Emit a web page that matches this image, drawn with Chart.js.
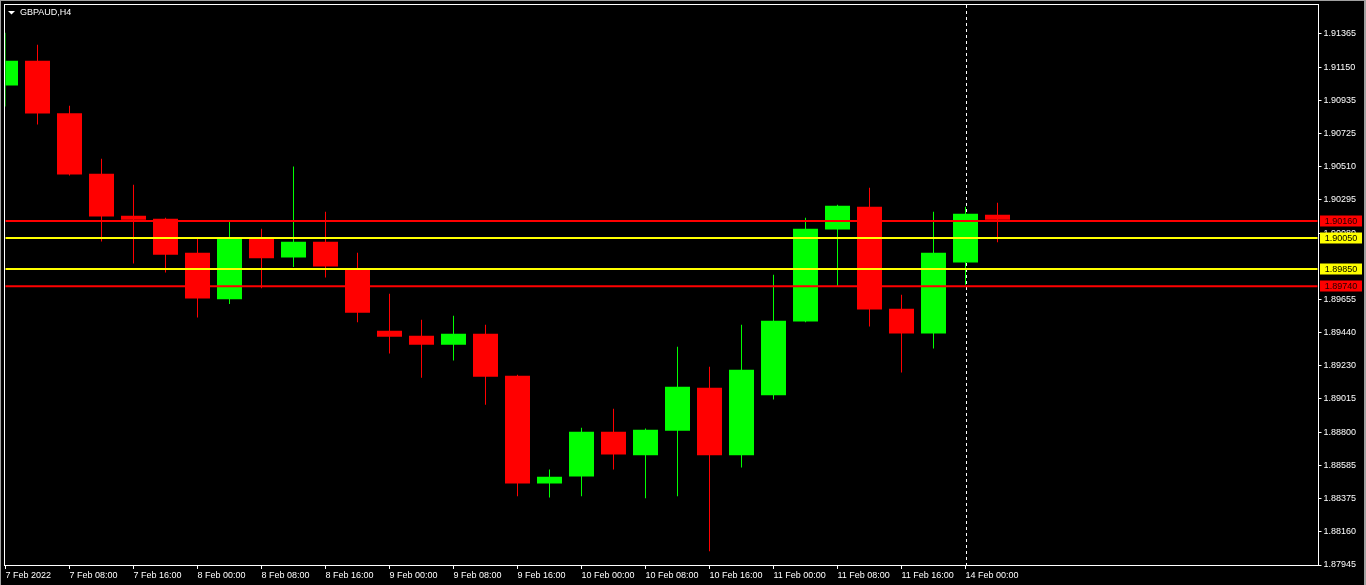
<!DOCTYPE html>
<html>
<head>
<meta charset="utf-8">
<title>GBPAUD,H4</title>
<script src="https://cdn.jsdelivr.net/npm/chart.js@4.4.1/dist/chart.umd.min.js"></script>
<style>
  html, body { margin: 0; padding: 0; background: #000; overflow: hidden; }
  canvas { display: block; }
</style>
</head>
<body>
<canvas id="chart" width="1366" height="585"></canvas>
<script>
// GBPAUD H4 candles, 7 Feb 2022 00:00 .. 14 Feb 04:00
const symbolTitle = 'GBPAUD,H4';

const opens = [1.91032, 1.91191, 1.90853, 1.90463, 1.90193, 1.90174, 1.89955, 1.89655,
  1.90045, 1.89925, 1.90026, 1.89852, 1.89453, 1.89421, 1.89363, 1.89434,
  1.89164, 1.88470, 1.88515, 1.88803, 1.88651, 1.88810, 1.89086, 1.88651,
  1.89037, 1.89513, 1.90105, 1.90251, 1.89595, 1.89436, 1.89893, 1.90200];
const highs = [1.91371, 1.91294, 1.90902, 1.90560, 1.90393, 1.90181, 1.90045, 1.90157,
  1.90110, 1.90511, 1.90219, 1.89955, 1.89691, 1.89524, 1.89550, 1.89492,
  1.89170, 1.88559, 1.88829, 1.88951, 1.88823, 1.89350, 1.89222, 1.89492,
  1.89814, 1.90181, 1.90264, 1.90374, 1.89685, 1.90219, 1.90251, 1.90277];
const lows = [1.90897, 1.90781, 1.90453, 1.90028, 1.89886, 1.89828, 1.89539, 1.89625,
  1.89726, 1.89863, 1.89796, 1.89507, 1.89307, 1.89151, 1.89262, 1.88977,
  1.88387, 1.88380, 1.88387, 1.88560, 1.88374, 1.88387, 1.88033, 1.88573,
  1.89011, 1.89507, 1.89738, 1.89481, 1.89185, 1.89339, 1.89749, 1.90022];
const closes = [1.91191, 1.90852, 1.90459, 1.90189, 1.90168, 1.89942, 1.89661, 1.90045,
  1.89919, 1.90026, 1.89867, 1.89569, 1.89415, 1.89363, 1.89434, 1.89157,
  1.88470, 1.88513, 1.88803, 1.88657, 1.88816, 1.89093, 1.88651, 1.89202,
  1.89518, 1.90110, 1.90258, 1.89590, 1.89436, 1.89955, 1.90206, 1.90168];

// x labels, one every two bars (8 hours)
const timeLabels = ['7 Feb 2022', '7 Feb 08:00', '7 Feb 16:00', '8 Feb 00:00', '8 Feb 08:00',
  '8 Feb 16:00', '9 Feb 00:00', '9 Feb 08:00', '9 Feb 16:00', '10 Feb 00:00', '10 Feb 08:00',
  '10 Feb 16:00', '11 Feb 00:00', '11 Feb 08:00', '11 Feb 16:00', '14 Feb 00:00'];
const totalSlots = 42;       // visible bar slots incl. empty space on the right
const separatorIndex = 30;   // 14 Feb 00:00 dashed line

const priceTicks = [1.91365, 1.91150, 1.90935, 1.90725, 1.90510, 1.90295, 1.90080,
  1.89655, 1.89440, 1.89230, 1.89015, 1.88800, 1.88585, 1.88375, 1.88160, 1.87945];
const priceMin = 1.87945;
const priceMax = 1.91550;

// horizontal levels
const levelValues = [1.90160, 1.90050, 1.89850, 1.89740];
const levelColors = ['#ff0000', '#ffff00', '#ffff00', '#ff0000'];

const UP = '#00ff00';
const DOWN = '#ff0000';
const FONT_FAMILY = '"Liberation Sans", Arial, sans-serif';

const labels = [];
for (let i = 0; i < totalSlots; i++) {
    labels.push(i % 2 === 0 && i / 2 < timeLabels.length ? timeLabels[i / 2] : '');
}
const candleColors = opens.map((o, i) => closes[i] >= o ? UP : DOWN);

const datasets = [];
levelValues.forEach((v, i) => {
    datasets.push({
        type: 'line',
        data: new Array(totalSlots).fill(v),
        borderColor: levelColors[i],
        borderWidth: 2,
        pointRadius: 0,
        order: 0
    });
});
datasets.push({
    label: 'body',
    data: opens.map((o, i) => [o, closes[i]]),
    backgroundColor: candleColors.slice(),
    barThickness: 25,
    grouped: false,
    inflateAmount: 0,
    borderWidth: 0,
    order: 1
});
datasets.push({
    label: 'wick',
    data: lows.map((l, i) => [l, highs[i]]),
    backgroundColor: candleColors.slice(),
    barThickness: 1,
    grouped: false,
    inflateAmount: 0,
    borderWidth: 0,
    order: 2
});

// background, frame, title, separator and level tags
const terminalLook = {
    id: 'terminalLook',
    beforeDraw(chart) {
        const c = chart.ctx;
        c.save();
        c.fillStyle = '#000';
        c.fillRect(0, 0, chart.width, chart.height);
        c.fillStyle = '#a0a0a0';
        c.fillRect(0, 0, chart.width, 1);
        c.fillRect(0, 0, 1, chart.height);
        c.fillRect(chart.width - 2, 0, 2, chart.height);
        c.restore();
    },
    beforeDatasetsDraw(chart) {
        const c = chart.ctx;
        const a = chart.chartArea;
        const x = Math.round(chart.scales.x.getPixelForValue(separatorIndex)) + 0.5;
        c.save();
        c.strokeStyle = '#ffffff';
        c.lineWidth = 1;
        c.setLineDash([3, 3]);
        c.beginPath();
        c.moveTo(x, a.top);
        c.lineTo(x, a.bottom);
        c.stroke();
        c.restore();
    },
    afterDraw(chart) {
        const c = chart.ctx;
        const a = chart.chartArea;
        const y = chart.scales.y;
        c.save();
        // plot frame
        c.strokeStyle = '#ffffff';
        c.lineWidth = 1;
        c.strokeRect(4.5, 4.5, Math.round(a.right) + 0.5 - 4.5, Math.round(a.bottom) + 0.5 - 4.5);
        // title
        c.fillStyle = '#ffffff';
        c.beginPath();
        c.moveTo(8, 11);
        c.lineTo(15, 11);
        c.lineTo(11.5, 14.5);
        c.closePath();
        c.fill();
        c.font = '9px ' + FONT_FAMILY;
        c.textBaseline = 'middle';
        c.textAlign = 'left';
        c.fillText(symbolTitle, 20, 13);
        // level tags on the price axis
        c.textAlign = 'center';
        levelValues.forEach((v, i) => {
            const py = Math.round(y.getPixelForValue(v));
            c.fillStyle = levelColors[i];
            c.fillRect(1320, py - 5.5, 42, 11);
            c.fillStyle = levelColors[i] === '#ffff00' ? '#000000' : '#200000';
            c.fillText(v.toFixed(5), 1341, py + 0.5);
        });
        c.restore();
    }
};

new Chart(document.getElementById('chart'), {
    type: 'bar',
    data: { labels: labels, datasets: datasets },
    options: {
        responsive: false,
        animation: false,
        devicePixelRatio: 1,
        layout: { padding: { left: 5.5, top: 5, right: 0, bottom: 0 } },
        plugins: { legend: { display: false }, tooltip: { enabled: false } },
        scales: {
            x: {
                type: 'category',
                offset: false,
                border: { display: false },
                grid: {
                    offset: false,
                    drawOnChartArea: false,
                    drawTicks: true,
                    tickLength: 4,
                    tickColor: (ctx) => (ctx.tick && ctx.tick.label) ? '#ffffff' : 'rgba(0,0,0,0)'
                },
                ticks: {
                    autoSkip: false,
                    maxRotation: 0,
                    minRotation: 0,
                    align: 'start',
                    padding: 1,
                    color: '#ffffff',
                    font: { family: FONT_FAMILY, size: 9 }
                },
                afterFit(scale) {
                    scale.height = 20;
                    scale.paddingLeft = 0;
                    scale.paddingRight = 0;
                }
            },
            y: {
                type: 'linear',
                position: 'right',
                min: priceMin,
                max: priceMax,
                border: { display: false },
                grid: {
                    drawOnChartArea: false,
                    drawTicks: true,
                    tickLength: 4,
                    tickColor: '#ffffff'
                },
                afterBuildTicks(scale) {
                    scale.ticks = priceTicks.map(v => ({ value: v }));
                },
                ticks: {
                    padding: 2,
                    color: '#ffffff',
                    font: { family: FONT_FAMILY, size: 9 },
                    callback: (v) => Number(v).toFixed(5)
                },
                afterFit(scale) {
                    scale.width = 48.5;
                    scale.paddingTop = 0;
                    scale.paddingBottom = 0;
                }
            }
        }
    },
    plugins: [terminalLook]
});
</script>
</body>
</html>
